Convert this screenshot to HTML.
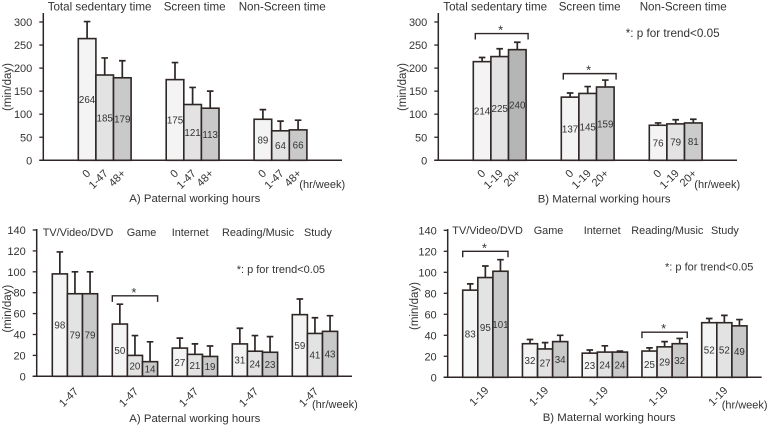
<!DOCTYPE html>
<html>
<head>
<meta charset="utf-8">
<title>Sedentary time by parental working hours</title>
<style>
html,body{margin:0;padding:0;background:#fff;}
svg{display:block;font-family:"Liberation Sans",sans-serif;fill:#333;}
</style>
</head>
<body>
<svg id="figure" width="769" height="425" viewBox="0 0 769 425" xmlns="http://www.w3.org/2000/svg">
  <g font-size="11.6">
    <text x="47.7" y="10.5">Total sedentary time</text>
    <text x="163.7" y="10.5">Screen time</text>
    <text x="238.7" y="10.5">Non-Screen time</text>
    <text x="443.3" y="10.5">Total sedentary time</text>
    <text x="558.7" y="10.5">Screen time</text>
    <text x="639.7" y="10.5">Non-Screen time</text>
  </g>
  <g font-size="10.9">
    <text x="42.7" y="236">TV/Video/DVD</text>
    <text x="126.7" y="236">Game</text>
    <text x="171.7" y="236">Internet</text>
    <text x="222" y="236">Reading/Music</text>
    <text x="304" y="236">Study</text>
    <text x="452.3" y="234">TV/Video/DVD</text>
    <text x="533.7" y="234">Game</text>
    <text x="583.7" y="234">Internet</text>
    <text x="631.3" y="234">Reading/Music</text>
    <text x="711" y="234">Study</text>
  </g>
  <g font-size="11.4">
    <text x="129.3" y="202">A) Paternal working hours</text>
    <text x="537.7" y="202.5">B) Maternal working hours</text>
    <text x="129.3" y="422">A) Paternal working hours</text>
    <text x="542.7" y="421">B) Maternal working hours</text>
  </g>
  <g font-size="11">
    <text x="299.3" y="188">(hr/week)</text>
    <text x="694.3" y="188">(hr/week)</text>
    <text x="312" y="408">(hr/week)</text>
    <text x="721.7" y="408.5">(hr/week)</text>
    <text x="236.7" y="273">*: p for trend&lt;0.05</text>
    <text x="665" y="270.7">*: p for trend&lt;0.05</text>
    <text x="625.7" y="37" font-size="11.7">*: p for trend&lt;0.05</text>
  </g>
  <g font-size="11.5">
    <text transform="translate(11,87) rotate(-90)" text-anchor="middle">(min/day)</text>
    <text transform="translate(406,87) rotate(-90)" text-anchor="middle">(min/day)</text>
    <text transform="translate(11,308.7) rotate(-90)" text-anchor="middle">(min/day)</text>
    <text transform="translate(418,306) rotate(-90)" text-anchor="middle">(min/day)</text>
  </g>
</svg>
<script>
// Top row, paternal working hours
const paternalTopBars = ['0', '1-47', '48+'];
const paternalTopTicks = [0, 50, 100, 150, 200, 250, 300];
const paternalTopValues = [[264, 185, 179], [175, 121, 113], [89, 64, 66]];
const paternalTopUpper = [[301, 222, 216], [212, 158, 150], [110, 85, 87]];
// Top row, maternal working hours
const maternalTopBars = ['0', '1-19', '20+'];
const maternalTopTicks = [0, 50, 100, 150, 200, 250, 300];
const maternalTopValues = [[214, 225, 240], [137, 145, 159], [76, 79, 81]];
const maternalTopUpper = [[223, 242, 256], [146, 160, 174], [81, 88, 89]];
// Bottom row, paternal working hours
const paternalBottomBars = ['1-47'];
const paternalBottomTicks = [0, 20, 40, 60, 80, 100, 120, 140];
const paternalBottomValues = [[98, 79, 79], [50, 20, 14], [27, 21, 19], [31, 24, 23], [59, 41, 43]];
const paternalBottomUpper = [[119, 100, 100], [69, 39, 33], [36.5, 31, 29], [46, 39, 38], [74, 56, 58]];
// Bottom row, maternal working hours
const maternalBottomBars = ['1-19'];
const maternalBottomTicks = [0, 20, 40, 60, 80, 100, 120, 140];
const maternalBottomValues = [[83, 95, 101], [32, 27, 34], [23, 24, 24], [25, 29, 32], [52, 52, 49]];
const maternalBottomUpper = [[89, 106, 112], [36, 33, 40], [26, 30, 25], [28, 34, 37], [56, 59, 55]];
// Significance brackets: which group each spans and the level it sits at
const maternalTopBracketGroups = [0, 1];
const maternalTopBracketLevels = [275, 188];
const paternalBottomBracketGroups = [1];
const paternalBottomBracketLevels = [77];
const maternalBottomBracketGroups = [0, 3];
const maternalBottomBracketLevels = [120, 43];

const INK = '#2e2725';
const NS = 'http://www.w3.org/2000/svg';
const svg = document.getElementById('figure');

function make(tag, attrs, parent) {
  const el = document.createElementNS(NS, tag);
  for (const k in attrs) el.setAttribute(k, attrs[k]);
  parent.appendChild(el);
  return el;
}

function drawPanel(p) {
  const yScale = v => p.y0 - (v - p.tickList[0]) * (p.y0 - p.yTop) / (p.tickList[p.tickList.length - 1] - p.tickList[0]);
  const barLeft = (g, i) => p.firstBar + g * p.groupStep + i * p.barWidth;

  const panel = make('g', {}, svg);
  
  

  p.values.forEach((group, g) => {
    group.forEach((value, i) => {
      const left = barLeft(g, i);
      const cx = left + p.barWidth / 2;
      const err = make('path', { d: 'M' + cx + ' ' + yScale(value) + 'V' + yScale(p.upper[g][i]) + 'M' + (cx - 3.3) + ' ' + yScale(p.upper[g][i]) + 'H' + (cx + 3.3), fill: 'none', stroke: INK, 'stroke-width': 1.7 }, panel);
      
      
      const fill = (p.fillOverride && p.fillOverride(g, i)) || p.fills[i];
      const bar = make('rect', { x: left, y: yScale(value), width: p.barWidth, height: yScale(0) - yScale(value), fill: fill, stroke: INK, 'stroke-width': 1.6 }, panel);
      
      
      const label = make('text', { x: cx, y: yScale(value / 2) + 3.6, 'text-anchor': 'middle', 'font-size': 9.8 }, panel);
      
      
      label.textContent = value;
    });
    p.barLabels.forEach((text, i) => {
      const cx = p.barLabels.length === 1
        ? barLeft(g, 0) + p.barWidth * 1.5
        : barLeft(g, i) + p.barWidth / 2;
      const ax = cx + 4;
      const tick = make('text', { transform: 'translate(' + ax + ',' + p.tickLabelY + ') rotate(-45)', 'text-anchor': 'end', 'font-size': 11 }, panel);
      
      
      tick.textContent = text;
    });
  });

  const yAxis = make('line', { x1: p.axisX, x2: p.axisX, y1: p.axisTop, y2: p.y0, stroke: INK, 'stroke-width': 1.5 }, panel);
  
  
  const xAxis = make('line', { x1: p.axisX - 4, x2: p.axisEnd, y1: p.y0, y2: p.y0, stroke: INK, 'stroke-width': 1.5 }, panel);
  
  

  p.tickList.forEach(t => {
    const mark = make('line', { x1: p.axisX - 4, x2: p.axisX, y1: yScale(t), y2: yScale(t), stroke: INK, 'stroke-width': 1.3 }, panel);
    
    
    const label = make('text', { x: p.axisX - 11, y: yScale(t) + 4, 'text-anchor': 'end', 'font-size': 11 }, panel);
    
    
    label.textContent = t;
  });

  p.bracketGroups.forEach((g, k) => {
    const left = barLeft(g, 0) + p.bracketInset;
    const right = barLeft(g, 3) + p.bracketInset;
    const y = yScale(p.bracketLevels[k]);
    const bracket = make('path', { d: 'M' + left + ' ' + (y + 6) + 'V' + y + 'H' + right + 'V' + (y + 6), fill: 'none', stroke: INK, 'stroke-width': 1.4 }, panel);
    
    
    const star = make('text', { x: (left + right) / 2 - 1, y: y + 1, 'text-anchor': 'middle', 'font-size': 13 }, panel);
    
    
    star.textContent = '*';
  });
}

drawPanel({
  name: 'chart-paternal-sedentary', values: paternalTopValues, upper: paternalTopUpper, tickList: paternalTopTicks, barLabels: paternalTopBars,
  bracketGroups: [], bracketLevels: [], bracketInset: 0,
  y0: 160.3, yTop: 22, axisX: 43.3, axisTop: 13, axisEnd: 342,
  firstBar: 78.3, groupStep: 87.9, barWidth: 17.6, tickLabelY: 174,
  fills: ['#f4f4f4', '#e3e3e3', '#c9c9c9']
});
drawPanel({
  name: 'chart-maternal-sedentary', values: maternalTopValues, upper: maternalTopUpper, tickList: maternalTopTicks, barLabels: maternalTopBars,
  bracketGroups: maternalTopBracketGroups, bracketLevels: maternalTopBracketLevels, bracketInset: 2,
  y0: 160.3, yTop: 22, axisX: 438.3, axisTop: 13, axisEnd: 737,
  firstBar: 473.3, groupStep: 88, barWidth: 17.6, tickLabelY: 174,
  fills: ['#f4f4f4', '#e3e3e3', '#cbcbcb'],
  fillOverride: (g, i) => (g === 0 && i === 2 ? '#b5b5b5' : null)
});
drawPanel({
  name: 'chart-paternal-screen-types', values: paternalBottomValues, upper: paternalBottomUpper, tickList: paternalBottomTicks, barLabels: paternalBottomBars,
  bracketGroups: paternalBottomBracketGroups, bracketLevels: paternalBottomBracketLevels, bracketInset: 0,
  y0: 376.3, yTop: 230, axisX: 36.7, axisTop: 229, axisEnd: 352,
  firstBar: 52.3, groupStep: 60, barWidth: 15.1, tickLabelY: 392,
  fills: ['#f4f4f4', '#e3e3e3', '#c9c9c9']
});
drawPanel({
  name: 'chart-maternal-screen-types', values: maternalBottomValues, upper: maternalBottomUpper, tickList: maternalBottomTicks, barLabels: maternalBottomBars,
  bracketGroups: maternalBottomBracketGroups, bracketLevels: maternalBottomBracketLevels, bracketInset: 0,
  y0: 377.3, yTop: 230.3, axisX: 447.7, axisTop: 229, axisEnd: 761.7,
  firstBar: 462.7, groupStep: 59.75, barWidth: 15.1, tickLabelY: 391,
  fills: ['#f4f4f4', '#e3e3e3', '#c9c9c9']
});
</script>
</body>
</html>
